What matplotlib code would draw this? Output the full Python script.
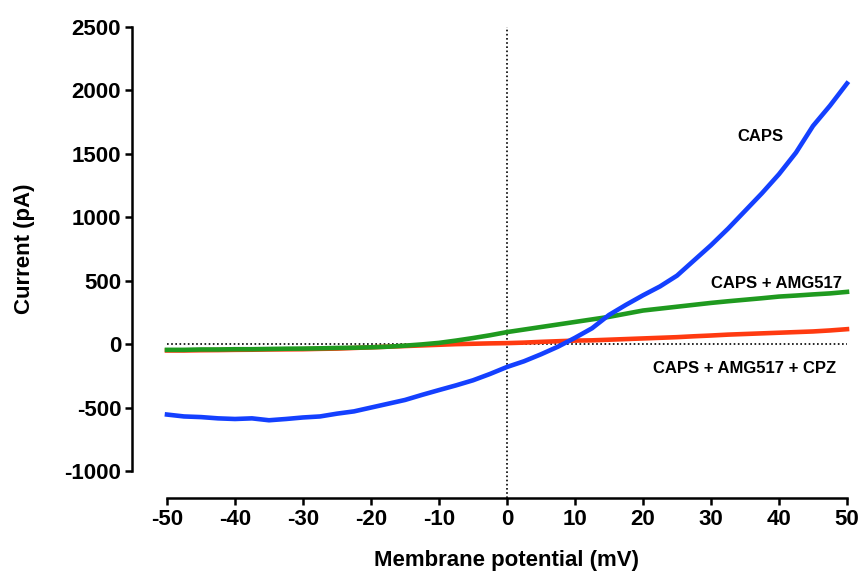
import matplotlib.pyplot as plt
import numpy as np

plt.rcParams['font.family'] = ['Liberation Sans', 'DejaVu Sans']
plt.rcParams['font.weight'] = 'bold'
plt.rcParams['axes.unicode_minus'] = False

# membrane potential (mV), 2.5 mV steps
voltage = np.arange(-50, 50.1, 2.5)

caps = [-555, -570, -575, -585, -590, -585, -600, -590, -578, -570,
        -548, -530, -500, -470, -440, -400, -362, -325, -285, -235,
        -180, -135, -80, -20, 50, 125, 230, 310, 385, 455,
        540, 660, 780, 910, 1050, 1190, 1340, 1510, 1720, 1880, 2055]

caps_amg = [-45, -45, -42, -42, -40, -40, -38, -36, -35, -33,
            -30, -28, -25, -20, -12, -2, 10, 28, 48, 70,
            95, 115, 135, 155, 175, 195, 215, 240, 265, 280,
            295, 310, 325, 338, 350, 362, 375, 383, 392, 400, 412]

caps_amg_cpz = [-50, -50, -48, -47, -45, -44, -42, -41, -40, -37,
                -35, -30, -25, -20, -15, -10, -5, 0, 3, 6,
                8, 12, 18, 23, 28, 30, 35, 40, 45, 50,
                55, 62, 68, 75, 80, 85, 90, 95, 100, 108, 118]

labels = ['CAPS', 'CAPS + AMG517', 'CAPS + AMG517 + CPZ']

fig = plt.figure(figsize=(8.62, 5.71), dpi=100)
ax = fig.add_axes([167/862, 100/571, 680/862, 444/571])

ax.plot(voltage, caps_amg_cpz, color='#ff3a10', lw=3.3, clip_on=False, zorder=3)
ax.plot(voltage, caps_amg, color='#1f9a1f', lw=3.3, clip_on=False, zorder=4)
ax.plot(voltage, caps, color='#1440ff', lw=3.3, clip_on=False, zorder=5)

# dotted zero lines
ax.axhline(0, color='black', lw=1.2, ls=(0, (1, 1.5)), zorder=2)
ax.axvline(0, ymin=-0.061, ymax=1, color='black', lw=1.2, ls=(0, (1, 1.5)),
           clip_on=False, zorder=2)

ax.set_xlim(-50, 50)
ax.set_ylim(-1000, 2500)
ax.set_xticks(np.arange(-50, 51, 10))
ax.set_yticks(np.arange(-1000, 2501, 500))

for side in ['top', 'right']:
    ax.spines[side].set_visible(False)
ax.spines['left'].set_position(('outward', 25))
ax.spines['bottom'].set_position(('outward', 19.5))
for side in ['left', 'bottom']:
    ax.spines[side].set_linewidth(1.8)
ax.tick_params(width=1.8, length=5, labelsize=16, pad=3)
for t in ax.get_xticklabels() + ax.get_yticklabels():
    t.set_fontweight('bold')

ax.set_xlabel('Membrane potential (mV)', fontsize=16, fontweight='bold')
ax.set_ylabel('Current (pA)', fontsize=16, fontweight='bold')
ax.xaxis.set_label_coords(0.5, -0.177)
ax.yaxis.set_label_coords(-0.194, 0.5)

ax.text(37.2, 1639, labels[0], fontsize=12, fontweight='bold',
        ha='center', va='center')
ax.text(39.7, 481, labels[1], fontsize=12, fontweight='bold',
        ha='center', va='center')
ax.text(34.9, -195, labels[2], fontsize=12, fontweight='bold',
        ha='center', va='center')

fig.savefig('out.png', dpi=100)
